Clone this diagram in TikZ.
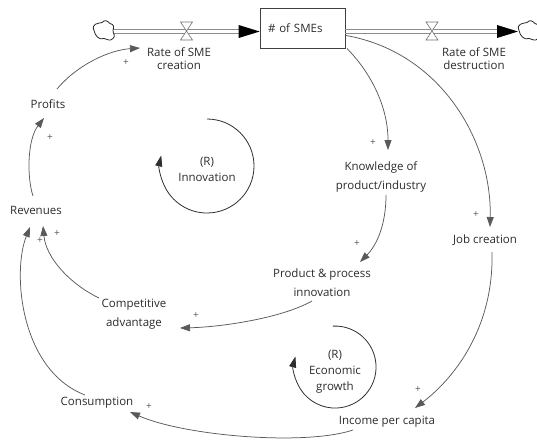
\documentclass[tikz,border=0pt]{standalone}
\usepackage{fontspec}
\setmainfont{Open Sans}
\usetikzlibrary{arrows.meta,calc}
\definecolor{txt}{HTML}{2C2C2C}
\definecolor{ln}{HTML}{5A5A5A}
\definecolor{loopc}{HTML}{2E2E2E}
\begin{document}
\begin{tikzpicture}[x=1pt,y=1pt,yscale=-1,
  lbl/.style={text=txt, align=center, inner sep=1pt, font=\fontsize{11.5}{19}\selectfont},
  tight/.style={font=\fontsize{11.5}{13}\selectfont},
  looplbl/.style={text=txt, align=center, inner sep=1pt, font=\fontsize{11.5}{16}\selectfont},
  link/.style={draw=ln, line width=0.75pt, -{Triangle[length=10pt,width=7pt]}},
  loopline/.style={draw=loopc, line width=0.8pt, -{Triangle[length=11pt,width=7pt]}},
  plus/.style={text=ln, font=\fontsize{10}{10}\selectfont, inner sep=0pt},
  pipeline/.style={draw=black!45, line width=0.8pt},
  valve/.style={draw=black!55, line width=0.6pt, fill=white},
  pipetip/.style={fill=black, draw=none},
  cloudline/.style={line width=0.8pt, draw=black!85, fill=white}
]
\useasboundingbox (0,0) rectangle (537,440);

% stock
\node[draw=black!75, line width=0.6pt, text=txt, minimum height=40pt, text width=69pt,
      align=left, inner xsep=8pt, inner ysep=0pt, font=\fontsize{11.5}{14}\selectfont] (stock) at (302.5,28.5) {\# of SMEs};

\coordinate (cloudL) at (113,31.5);
\coordinate (cloudR) at (518,31.5);
\coordinate (stockin) at ($(stock.west)+(0,3)$);
\coordinate (stockout) at ($(stock.east)+(0,3)$);

% pipes
\draw[pipeline] ($(cloudL)+(0,-2.3)$) -- ($(stockin)+(-12,-2.3)$);
\draw[pipeline] ($(cloudL)+(0,2.3)$) -- ($(stockin)+(-12,2.3)$);
\draw[pipeline] ($(stockout)+(0,-2.3)$) -- ($(cloudR)+(-12,-2.3)$);
\draw[pipeline] ($(stockout)+(0,2.3)$) -- ($(cloudR)+(-12,2.3)$);
\fill[pipetip] (stockin) -- ++(-21,-6.5) -- ++(0,13) -- cycle;
\fill[pipetip] (cloudR) -- ++(-21,-6.5) -- ++(0,13) -- cycle;

% clouds
\draw[cloudline] ($(cloudL)+(-19,-1)$) .. controls +(-3,-7) and +(-4,1) .. ++(8,-8)
   .. controls +(3,-3) and +(-3,-3) .. ++(8,1)
   .. controls +(4,1) and +(1,-4) .. ++(3,7)
   .. controls +(0,4) and +(3,-3) .. ++(0,8)
   .. controls +(-3,3) and +(4,1) .. ++(-9,0)
   .. controls +(-5,2) and +(1,5) .. ++(-10,-8) -- cycle;
\draw[cloudline] ($(cloudR)+(1,-1)$) .. controls +(-3,-7) and +(-4,1) .. ++(8,-8)
   .. controls +(3,-3) and +(-3,-3) .. ++(8,1)
   .. controls +(4,1) and +(1,-4) .. ++(3,7)
   .. controls +(0,4) and +(3,-3) .. ++(0,8)
   .. controls +(-3,3) and +(4,1) .. ++(-9,0)
   .. controls +(-5,2) and +(1,5) .. ++(-10,-8) -- cycle;

\coordinate (vL) at (186.5,31);
\coordinate (vR) at (432,31);
\draw[valve] ($(vL)+(-6,-9)$) -- ++(12,0) -- ++(-12,18) -- ++(12,0) -- cycle;
\draw[valve] ($(vR)+(-6,-9)$) -- ++(12,0) -- ++(-12,18) -- ++(12,0) -- cycle;

% variables
\node[lbl,tight] (rsc) at (179,59) {Rate of SME\\creation};
\node[lbl,tight] (rsd) at (474,59) {Rate of SME\\destruction};
\node[lbl] (profits) at (48,104) {Profits};
\node[lbl] (revenues) at (36,210) {Revenues};
\node[lbl] (knowledge) at (381,177) {Knowledge of\\product/industry};
\node[lbl] (job) at (485,240) {Job creation};
\node[lbl] (ppi) at (322,283) {Product \& process\\innovation};
\node[lbl] (comp) at (134,314) {Competitive\\advantage};
\node[lbl] (cons) at (97,403) {Consumption};
\node[lbl] (income) at (387,422) {Income per capita};

% loop labels
\node[looplbl] (innov) at (207,169) {(R)\\Innovation};
\node[looplbl] (econ) at (335,372) {(R)\\Economic\\growth};

% links
\draw[link] ($(profits)+(9,-15)$) .. controls (78,64) and (110,50) .. ($(rsc)+(-39,-11)$);
\draw[link] ($(revenues)+(-3,-14)$) .. controls (27,178) and (27,140) .. ($(profits)+(-4,14)$);
\draw[link] ($(comp)+(-35,-16)$) .. controls (70,284) and (46,258) .. ($(revenues)+(7,16)$);
\draw[link] ($(cons)+(-12,-8)$) .. controls (20,370) and (12,272) .. ($(revenues)+(-6,17)$);
\draw[link] ($(stock)+(44.5,20)$) .. controls (372,74) and (388,108) .. ($(knowledge)+(7,-27)$);
\draw[link] ($(stock)+(43.5,7)$) .. controls (440,52) and (492,140) .. ($(job)+(5,-13)$);
\draw[link] ($(knowledge)+(5,18)$) .. controls (386,226) and (376,246) .. ($(ppi)+(38,-21)$);
\draw[link] ($(job)+(7,12)$) .. controls (494,330) and (452,380) .. ($(income)+(28,-14)$);
\draw[link] ($(ppi)+(-10,18)$) .. controls (282,318) and (222,327) .. ($(comp)+(46,14)$);
\draw[link] ($(income)+(-34,8)$) .. controls (305,446) and (185,436) .. ($(cons)+(33,9)$);

% polarities
\node[plus] (p1) at (126,63) {+};
\node[plus] (p2) at (50,138) {+};
\node[plus] (p3) at (40,241) {+};
\node[plus] (p4) at (57,234) {+};
\node[plus] (p5) at (196,316) {+};
\node[plus] (p6) at (149,407) {+};
\node[plus] (p7) at (373,143) {+};
\node[plus] (p8) at (476,215) {+};
\node[plus] (p9) at (357,244) {+};
\node[plus] (p10) at (418,390) {+};

% loops
\draw[loopline] ($(innov)+(0,-50)$) arc[start angle=-90, end angle=193, radius=47];
\draw[loopline] ($(econ)+(-2.1,-45.9)$) arc[start angle=-93, end angle=195, radius=41];
\end{tikzpicture}
\end{document}
